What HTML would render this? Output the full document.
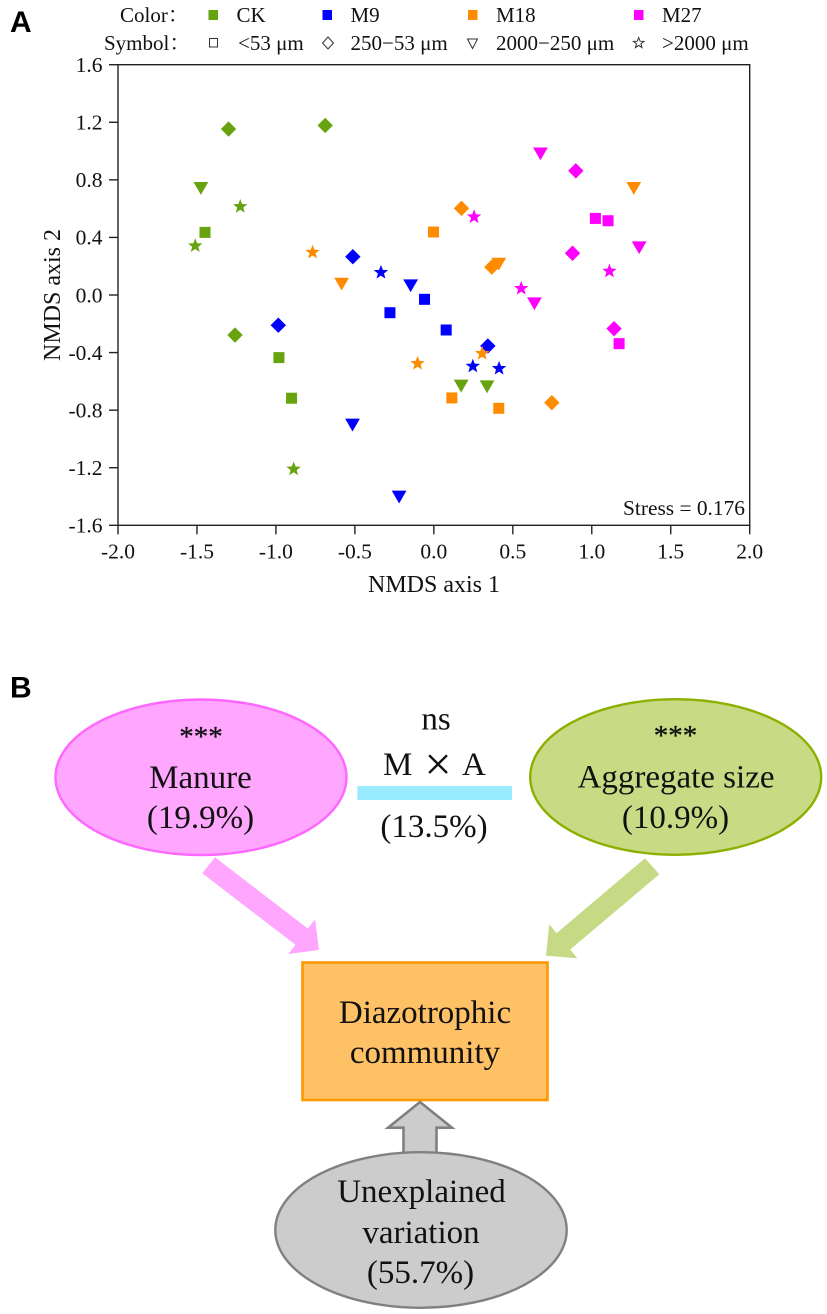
<!DOCTYPE html>
<html lang="en">
<head>
<meta charset="utf-8">
<title>NMDS ordination and variance partitioning</title>
<style>
html,body{margin:0;padding:0;background:#fff;}
svg{display:block;}
text{font-family:"Liberation Serif","Noto Serif CJK SC",serif;fill:#111;}
.letter{font-family:"Liberation Sans",sans-serif;font-weight:700;font-size:30px;fill:#000;}
.t21{font-size:21px;}
.t33{font-size:33px;}
.mid{text-anchor:middle;}
</style>
</head>
<body>
<svg id="figure" width="827" height="1314" viewBox="0 0 827 1314" xmlns="http://www.w3.org/2000/svg">
  <rect width="827" height="1314" fill="#fff"/>
  <text class="letter" x="10" y="32">A</text>

  <g id="legend">
    <text class="t21" x="120" y="22">Color：</text>
    <text class="t21" x="104" y="50">Symbol：</text>
    <rect x="208.5" y="10" width="9.5" height="10" fill="#66a30f"/>
    <text class="t21" x="236.5" y="22">CK</text>
    <rect x="322.5" y="10" width="9.5" height="10" fill="#0000ff"/>
    <text class="t21" x="350.5" y="22">M9</text>
    <rect x="468" y="10" width="9.5" height="10" fill="#ff8c00"/>
    <text class="t21" x="496" y="22">M18</text>
    <rect x="634" y="10" width="9.5" height="10" fill="#ff00ff"/>
    <text class="t21" x="662" y="22">M27</text>
    <rect x="209.5" y="38.5" width="8" height="8.5" fill="none" stroke="#333" stroke-width="1"/>
    <polygon points="328,37 333.5,43 328,49 322.5,43" fill="none" stroke="#333" stroke-width="1"/>
    <polygon points="467.5,39 477.5,39 472.5,48.5" fill="none" stroke="#333" stroke-width="1"/>
    <polygon points="638.7,37.5 640.1,41.2 644,41.4 640.9,43.8 642,47.6 638.7,45.4 635.4,47.6 636.5,43.8 633.4,41.4 637.3,41.2" fill="none" stroke="#333" stroke-width="1"/>
    <text class="t21" x="238" y="50">&lt;53 μm</text>
    <text class="t21" x="350.5" y="50">250−53 μm</text>
    <text class="t21" x="496" y="50">2000−250 μm</text>
    <text class="t21" x="662" y="50">&gt;2000 μm</text>
  </g>

  <g id="chart"></g>

  <text class="letter" x="10" y="697.5">B</text>

  <g>
    <polygon points="215,857.3 202.3,873.3 295.5,944.8 288.3,954 319,950 315,919.3 307.9,928.6" fill="#ffa6ff"/>
    <polygon points="645,858.3 659.3,874.3 570.2,949.5 577.3,958.3 546,955.7 549.3,924.3 556.5,933.2" fill="#c6d985"/>

    <ellipse cx="201" cy="777.3" rx="145.5" ry="77.8" fill="#ffa6ff" stroke="#ff66ff" stroke-width="2.4"/>
    <text class="mid" x="201" y="746" font-size="29" font-weight="400" stroke="#111" stroke-width="0.3">***</text>
    <text class="t33 mid" x="200.5" y="788">Manure</text>
    <text class="t33 mid" x="200.5" y="828">(19.9%)</text>

    <ellipse cx="675.7" cy="777" rx="145.5" ry="77.8" fill="#c8da84" stroke="#8db000" stroke-width="2.4"/>
    <text class="mid" x="675.5" y="745" font-size="29" stroke="#111" stroke-width="0.3">***</text>
    <text class="t33 mid" x="676" y="787.5">Aggregate size</text>
    <text class="t33 mid" x="675.5" y="828">(10.9%)</text>

    <text class="t33 mid" x="436" y="729.5">ns</text>
    <text class="t33" x="383" y="775">M</text>
    <text class="mid" x="438" y="780" font-size="48">×</text>
    <text class="t33" x="462" y="775">A</text>
    <rect x="357.3" y="786" width="154.7" height="14" fill="#99ebff"/>
    <text class="t33 mid" x="434" y="837">(13.5%)</text>

    <rect x="302.5" y="962.5" width="245" height="137.5" fill="#ffc166" stroke="#ff9900" stroke-width="2.6"/>
    <text class="t33 mid" x="425" y="1023">Diazotrophic</text>
    <text class="t33 mid" x="425" y="1063">community</text>

    <polygon points="420,1102 452,1127.7 436.5,1127.7 436.5,1153 403.5,1153 403.5,1127.7 388,1127.7" fill="#cccccc" stroke="#808080" stroke-width="2.6"/>
    <ellipse cx="421" cy="1230" rx="145.7" ry="77.8" fill="#cccccc" stroke="#808080" stroke-width="2.4"/>
    <text class="t33 mid" x="421.5" y="1202">Unexplained</text>
    <text class="t33 mid" x="421" y="1243">variation</text>
    <text class="t33 mid" x="420.5" y="1283">(55.7%)</text>
  </g>
</svg>

<script>
const xTickLabels = ["-2.0", "-1.5", "-1.0", "-0.5", "0.0", "0.5", "1.0", "1.5", "2.0"];
const yTickLabels = ["1.6", "1.2", "0.8", "0.4", "0.0", "-0.4", "-0.8", "-1.2", "-1.6"];

const ckSquareX = [-1.449, -0.981, -0.901];
const ckSquareY = [0.435, -0.435, -0.717];
const ckDiamondX = [-1.300, -0.688, -1.259];
const ckDiamondY = [1.153, 1.178, -0.278];
const ckTriangleX = [-1.475, 0.173, 0.337];
const ckTriangleY = [0.741, -0.632, -0.637];
const ckStarX = [-1.226, -1.511, -0.888];
const ckStarY = [0.618, 0.345, -1.206];

const m9SquareX = [-0.059, 0.078, -0.278];
const m9SquareY = [-0.030, -0.243, -0.123];
const m9DiamondX = [-0.513, -0.985, 0.342];
const m9DiamondY = [0.266, -0.210, -0.354];
const m9TriangleX = [-0.147, -0.515, -0.220];
const m9TriangleY = [0.065, -0.903, -1.403];
const m9StarX = [-0.335, 0.247, 0.413];
const m9StarY = [0.160, -0.491, -0.507];

const m18SquareX = [-0.002, 0.114, 0.411];
const m18SquareY = [0.4375, -0.715, -0.787];
const m18DiamondX = [0.175, 0.367, 0.747];
const m18DiamondY = [0.602, 0.194, -0.748];
const m18TriangleX = [1.266, 0.411, -0.584];
const m18TriangleY = [0.741, 0.215, 0.076];
const m18StarX = [-0.768, -0.103, 0.306];
const m18StarY = [0.300, -0.472, -0.403];

const m27SquareX = [1.023, 1.103, 1.173];
const m27SquareY = [0.532, 0.516, -0.338];
const m27DiamondX = [0.899, 0.878, 1.141];
const m27DiamondY = [0.863, 0.290, -0.234];
const m27TriangleX = [0.675, 1.300, 0.637];
const m27TriangleY = [0.981, 0.329, -0.060];
const m27StarX = [0.255, 1.112, 0.553];
const m27StarY = [0.546, 0.169, 0.049];

const stressLabel = "Stress = 0.176";

const NS = "http://www.w3.org/2000/svg";
const chart = document.getElementById("chart");
const AXIS = "#222222";
const PLOT = { left: 118, right: 749.7, top: 64.7, bottom: 525.3 };

function xScale(v) {
  return PLOT.left + (v + 2) / 4 * (PLOT.right - PLOT.left);
}
function yScale(v) {
  return PLOT.bottom - (v + 1.6) / 3.2 * (PLOT.bottom - PLOT.top);
}
function svgEl(tag, attrs) {
  const el = document.createElementNS(NS, tag);
  Object.keys(attrs).forEach(function (k) { el.setAttribute(k, attrs[k]); });
  chart.appendChild(el);
  return el;
}

const frame = svgEl("rect", {
  x: PLOT.left, y: PLOT.top,
  width: PLOT.right - PLOT.left, height: PLOT.bottom - PLOT.top,
  fill: "none", stroke: AXIS, "stroke-width": 1.4
});



xTickLabels.forEach(function (label) {
  const v = parseFloat(label);
  const tick = svgEl("line", {
    x1: xScale(v), x2: xScale(v), y1: PLOT.bottom, y2: PLOT.bottom + 9,
    stroke: AXIS, "stroke-width": 1.4
  });
  
  
  const text = svgEl("text", { x: xScale(v), y: 558.5, "text-anchor": "middle", "font-size": 21.5 });
  text.textContent = label;
  
  
});

yTickLabels.forEach(function (label) {
  const v = parseFloat(label);
  const tick = svgEl("line", {
    x1: PLOT.left - 9, x2: PLOT.left, y1: yScale(v), y2: yScale(v),
    stroke: AXIS, "stroke-width": 1.4
  });
  
  
  const text = svgEl("text", { x: 102.5, y: yScale(v) + 7.3, "text-anchor": "end", "font-size": 21.5 });
  text.textContent = label;
  
  
});

const xTitle = svgEl("text", { x: 434, y: 592, "text-anchor": "middle", "font-size": 24 });
xTitle.textContent = "NMDS axis 1";



const yTitle = svgEl("text", { x: 0, y: 0, "text-anchor": "middle", "font-size": 24, transform: "translate(60,295) rotate(-90)" });
yTitle.textContent = "NMDS axis 2";



const stress = svgEl("text", { x: 745, y: 515, "text-anchor": "end", "font-size": 21.4 });
stress.textContent = stressLabel;



function squareShape(cx, cy, fill) {
  return svgEl("rect", { x: cx - 5.5, y: cy - 5.5, width: 11, height: 11, fill: fill });
}
function diamondShape(cx, cy, fill) {
  const r = 7.7;
  const pts = [[cx, cy - r], [cx + r, cy], [cx, cy + r], [cx - r, cy]];
  return svgEl("polygon", { points: pts.join(" "), fill: fill });
}
function triangleShape(cx, cy, fill) {
  const pts = [[cx - 7.4, cy - 6.3], [cx + 7.4, cy - 6.3], [cx, cy + 6.5]];
  return svgEl("polygon", { points: pts.join(" "), fill: fill });
}
function starShape(cx, cy, fill) {
  const pts = [];
  for (let i = 0; i < 10; i++) {
    const r = i % 2 === 0 ? 7.6 : 3.2;
    const a = -Math.PI / 2 + i * Math.PI / 5;
    pts.push([cx + r * Math.cos(a), cy + 0.5 + r * Math.sin(a)]);
  }
  return svgEl("polygon", { points: pts.join(" "), fill: fill });
}

function drawPoints(xs, ys, shape, fill, name) {
  xs.forEach(function (xv, i) {
    const mark = shape(xScale(xv), yScale(ys[i]), fill);
    
    
  });
}

const CK = "#66a30f", M9 = "#0000ff", M18 = "#ff8c00", M27 = "#ff00ff";

drawPoints(ckSquareX, ckSquareY, squareShape, CK, "point-ck-under-53");
drawPoints(ckDiamondX, ckDiamondY, diamondShape, CK, "point-ck-250-53");
drawPoints(ckTriangleX, ckTriangleY, triangleShape, CK, "point-ck-2000-250");
drawPoints(ckStarX, ckStarY, starShape, CK, "point-ck-over-2000");

drawPoints(m9SquareX, m9SquareY, squareShape, M9, "point-m9-under-53");
drawPoints(m9DiamondX, m9DiamondY, diamondShape, M9, "point-m9-250-53");
drawPoints(m9TriangleX, m9TriangleY, triangleShape, M9, "point-m9-2000-250");
drawPoints(m9StarX, m9StarY, starShape, M9, "point-m9-over-2000");

drawPoints(m18SquareX, m18SquareY, squareShape, M18, "point-m18-under-53");
drawPoints(m18DiamondX, m18DiamondY, diamondShape, M18, "point-m18-250-53");
drawPoints(m18TriangleX, m18TriangleY, triangleShape, M18, "point-m18-2000-250");
drawPoints(m18StarX, m18StarY, starShape, M18, "point-m18-over-2000");

drawPoints(m27SquareX, m27SquareY, squareShape, M27, "point-m27-under-53");
drawPoints(m27DiamondX, m27DiamondY, diamondShape, M27, "point-m27-250-53");
drawPoints(m27TriangleX, m27TriangleY, triangleShape, M27, "point-m27-2000-250");
drawPoints(m27StarX, m27StarY, starShape, M27, "point-m27-over-2000");
</script>
</body>
</html>
